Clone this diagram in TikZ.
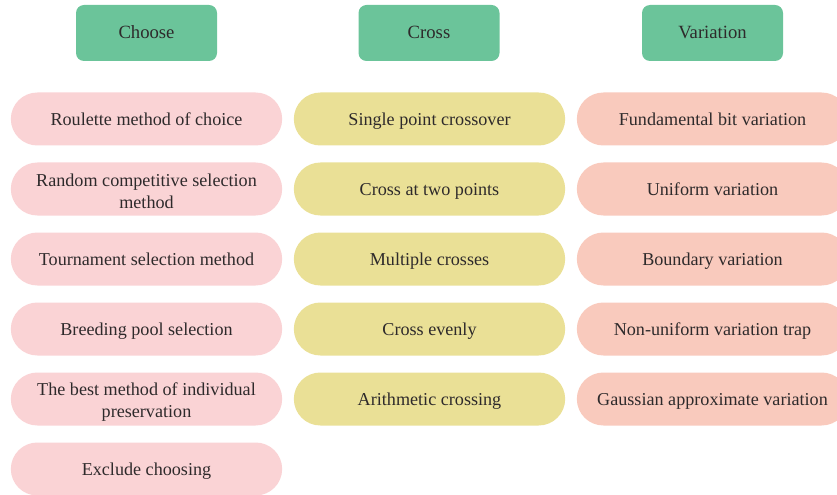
\documentclass[tikz,border=0pt]{standalone}
\usepackage{fontspec}
\setmainfont{Liberation Serif}
\usetikzlibrary{shapes.misc, positioning}
\definecolor{headgreen}{HTML}{6BC49A}
\definecolor{choosepink}{HTML}{FAD3D5}
\definecolor{crossyellow}{HTML}{EAE096}
\definecolor{varsalmon}{HTML}{F9CABD}
\definecolor{inktext}{HTML}{2E2A2B}
\newcommand{\pillstrut}{\rule[-4pt]{0pt}{17.6pt}}

\tikzset{
  head/.style={draw=none, fill=headgreen, rounded corners=6pt,
    minimum width=105.75pt, minimum height=42pt, text=inktext,
    text height=10.5pt, text depth=2.5pt, font=\fontsize{14}{16}\selectfont},
  pill/.style={rounded rectangle, draw=none, minimum width=205.5pt,
    minimum height=39.75pt, inner sep=1pt, align=center, text=inktext,
    font=\fontsize{13.6}{16.5}\selectfont}
}

\begin{document}
\begin{tikzpicture}[x=0.75pt, y=-0.75pt]
  \useasboundingbox (0,0) rectangle (837,495);

  % column headers
  \node[head] (choose) at (146.5,33) {Choose};
  \node[head] (cross)  at (429,33)   {Cross};
  \node[head] (vary)   at (712.5,33) {Variation};

  % choose column
  \foreach \i/\t in {1/Roulette method of choice,
                     2/{Random competitive selection\\method},
                     3/Tournament selection method,
                     4/Breeding pool selection,
                     5/{The best method of individual\\preservation},
                     6/Exclude choosing} {
    \node[pill, fill=choosepink] (ch\i) at (146.5,49+70*\i) {\pillstrut\t};
  }

  % cross column
  \foreach \i/\t in {1/Single point crossover,
                     2/Cross at two points,
                     3/Multiple crosses,
                     4/Cross evenly,
                     5/Arithmetic crossing} {
    \node[pill, fill=crossyellow] (cr\i) at (429.5,49+70*\i) {\pillstrut\t};
  }

  % variation column (runs past the right edge)
  \foreach \i/\t in {1/Fundamental bit variation,
                     2/Uniform variation,
                     3/Boundary variation,
                     4/Non-uniform variation trap,
                     5/Gaussian approximate variation} {
    \node[pill, fill=varsalmon] (va\i) at (712.5,49+70*\i) {\pillstrut\t};
  }
\end{tikzpicture}
\end{document}
